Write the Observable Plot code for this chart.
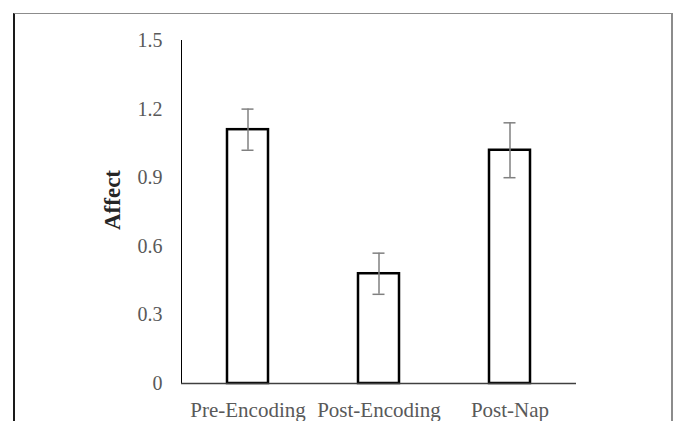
<!DOCTYPE html>
<html>
<head>
<meta charset="utf-8">
<script src="https://cdn.jsdelivr.net/npm/d3@7"></script>
<script src="https://cdn.jsdelivr.net/npm/@observablehq/plot@0.6"></script>
<style>
  html, body { margin: 0; padding: 0; background: #fff; overflow: hidden; }
  #wrap { position: relative; width: 673px; height: 421px; }
  #frame { position: absolute; left: 13px; top: 13px; width: 656px; height: 420px;
           border-left: 2px solid #1a1a1a; border-top: 1px solid #8c8c8c; border-right: 2px solid #8c8c8c; }
  #chart { position: absolute; left: 0; top: 0; }
</style>
</head>
<body>
<div id="wrap"><div id="frame"></div><div id="chart"></div></div>
<script>
const categories = ["Pre-Encoding", "Post-Encoding", "Post-Nap"];
const means = [1.11, 0.48, 1.02];
const errLow = [1.02, 0.39, 0.90];
const errHigh = [1.20, 0.57, 1.14];
const yTicks = [0, 0.3, 0.6, 0.9, 1.2, 1.5];
const yTickLabels = ["0", "0.3", "0.6", "0.9", "1.2", "1.5"];

const data = categories.map((c, i) => ({cat: c, mean: means[i], lo: errLow[i], hi: errHigh[i]}));

const chart = Plot.plot({
  width: 673,
  height: 421,
  marginLeft: 181,
  marginRight: 97,
  marginTop: 40,
  marginBottom: 38,
  style: {fontFamily: "'Liberation Serif', 'Times New Roman', serif", fontSize: "20px", background: "transparent", overflow: "visible"},
  x: {domain: categories, paddingInner: 0.69, paddingOuter: 0.345, label: null, tickSize: 0, tickPadding: 19},
  y: {domain: [0, 1.5], ticks: yTicks, tickFormat: (d) => yTickLabels[yTicks.indexOf(d)], tickSize: 0, tickPadding: 19,
      line: true, label: "Affect", labelAnchor: "center", labelArrow: false, labelOffset: 78},
  marks: [
    Plot.barY(data, {x: "cat", y: "mean", fill: "white", stroke: "#000", strokeWidth: 2.5}),
    Plot.ruleY([0], {stroke: "#404040", strokeWidth: 1.5}),
    Plot.ruleX(data, {x: "cat", y1: "lo", y2: "hi", stroke: "#808080", strokeWidth: 1.5}),
    Plot.tickY(data, {x: "cat", y: "lo", stroke: "#808080", strokeWidth: 1.5, insetLeft: 14.5, insetRight: 14.5}),
    Plot.tickY(data, {x: "cat", y: "hi", stroke: "#808080", strokeWidth: 1.5, insetLeft: 14.5, insetRight: 14.5})
  ]
});
document.getElementById("chart").appendChild(chart);

// styling of axes
chart.querySelectorAll('[aria-label="x-axis tick label"], [aria-label="y-axis tick label"]').forEach(g => g.setAttribute("fill", "#595959"));
chart.querySelectorAll('[aria-label="x-axis tick label"]').forEach(g => g.setAttribute("font-size", "21px"));
const yl = chart.querySelector('[aria-label="y-axis label"]');
if (yl) {
  yl.setAttribute("font-weight", "bold");
  yl.setAttribute("fill", "#262626");
  yl.setAttribute("font-size", "23px");
  yl.querySelectorAll("text").forEach(t => t.setAttribute("dx", "12"));
}
</script>
</body>
</html>
